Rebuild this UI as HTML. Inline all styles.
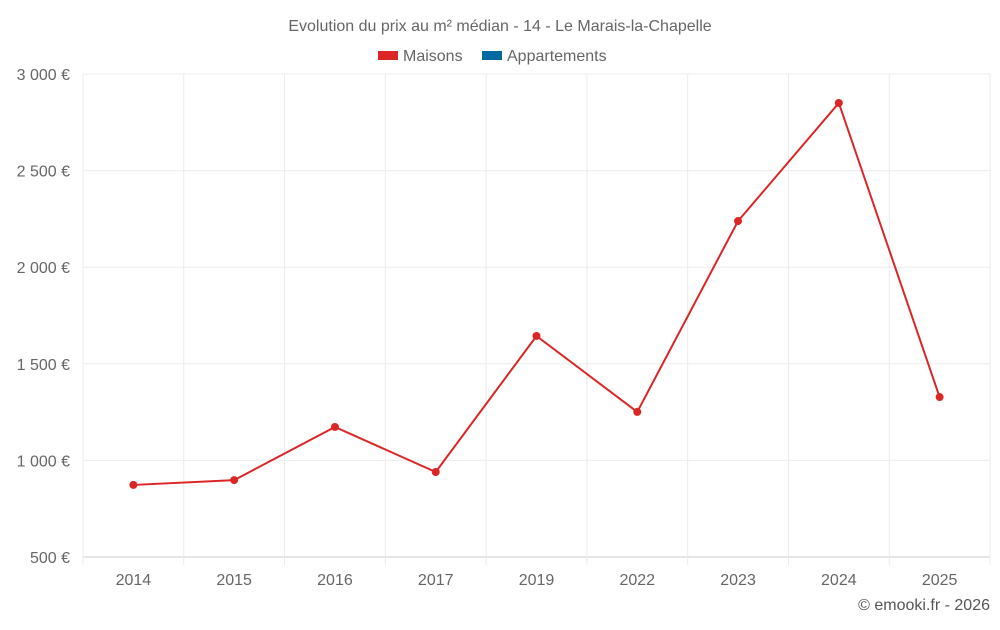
<!DOCTYPE html>
<html><head><meta charset="utf-8"><style>
body{margin:0;background:#fff;font-family:"Liberation Sans",sans-serif;}
svg text{font-family:"Liberation Sans",sans-serif;}
</style></head><body>
<svg id="c" width="1000" height="625">
<text x="500" y="31" text-anchor="middle" font-size="16" fill="#666">Evolution du prix au m² médian - 14 - Le Marais-la-Chapelle</text>
<g>
<g><rect x="378" y="51" width="20" height="9" fill="#dc2626"/><text x="403" y="61" font-size="16" fill="#666">Maisons</text></g>
<g><rect x="482" y="51" width="20" height="9" fill="#0369a1"/><text x="507" y="61" font-size="16" fill="#666">Appartements</text></g>
</g>
<g id="grid"></g><g id="axes"></g><g id="series"></g>
<text x="990" y="610" text-anchor="end" font-size="16" fill="#555">© emooki.fr - 2026</text>
</svg>
<script>
const categories=["2014","2015","2016","2017","2019","2022","2023","2024","2025"];
const maisons=[873,898,1173,940,1644,1251,2239,2850,1328];
const yTicks=[500,1000,1500,2000,2500,3000];
const yTickLabels=["500 €","1 000 €","1 500 €","2 000 €","2 500 €","3 000 €"];
const L=83,R=990,T=74,B=557,yMin=500,yMax=3000;
const ns="http://www.w3.org/2000/svg";
const bw=(R-L)/categories.length;
const x=i=>L+bw*(i+0.5);
const y=v=>B-(v-yMin)/(yMax-yMin)*(B-T);
function mk(t,a,p){const e=document.createElementNS(ns,t);for(const k in a)e.setAttribute(k,a[k]);p.appendChild(e);return e;}
const g=document.getElementById('grid'),ax=document.getElementById('axes'),s=document.getElementById('series');
yTicks.forEach((v,i)=>{
 const l=mk('line',{x1:L,x2:R,y1:y(v),y2:y(v),stroke:i==0?'#ccc':'#ebebeb'},g);
 
 
 const t=mk('text',{x:70,y:y(v)+6,'text-anchor':'end','font-size':16,fill:'#666'},ax);t.textContent=yTickLabels[i];
 
 
});
for(let i=0;i<=categories.length;i++){
 const xx=L+bw*i;
 const l=mk('line',{x1:xx,x2:xx,y1:T,y2:B+8,stroke:'#ebebeb'},g);
 
 
}
categories.forEach((c,i)=>{
 const t=mk('text',{x:x(i),y:585,'text-anchor':'middle','font-size':16,fill:'#666'},ax);t.textContent=c;
 
 
});
const p=mk('polyline',{points:maisons.map((v,i)=>x(i)+','+y(v)).join(' '),fill:'none',stroke:'#dc2626','stroke-width':2},s);


maisons.forEach((v,i)=>{
 const c=mk('circle',{cx:x(i),cy:y(v),r:4,fill:'#dc2626'},s);
 
 
});
</script>
</body></html>
